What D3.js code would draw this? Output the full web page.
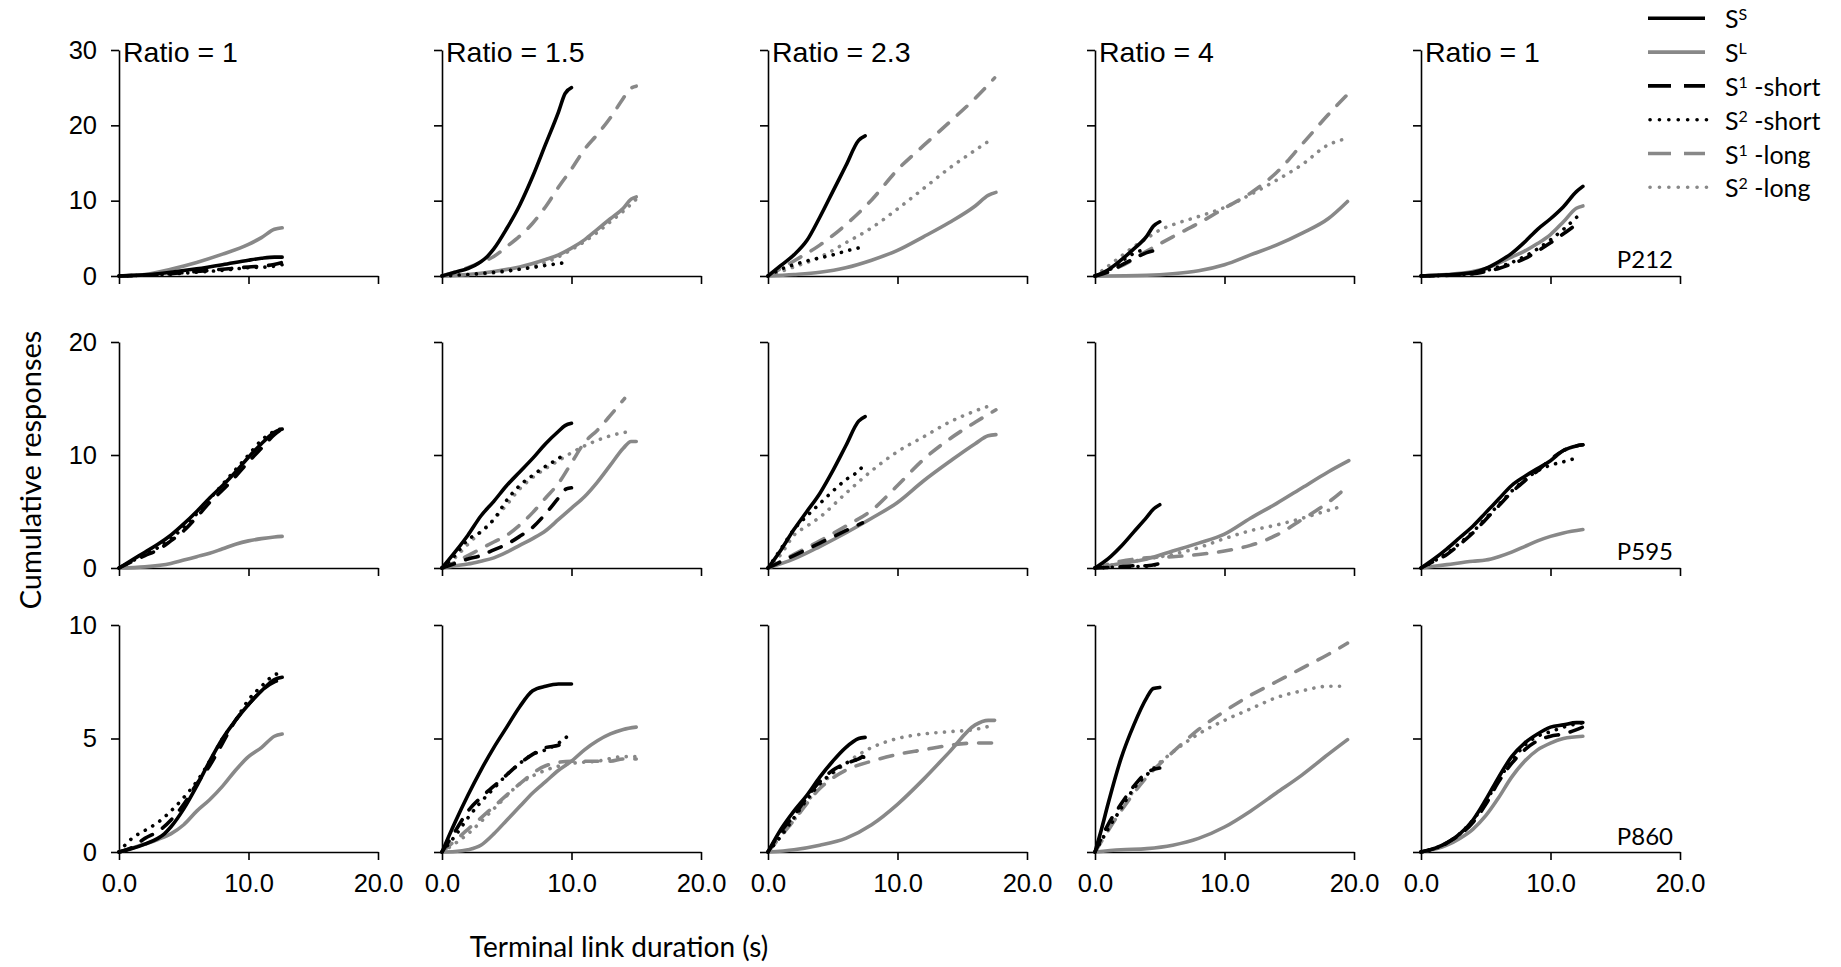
<!DOCTYPE html>
<html>
<head>
<meta charset="utf-8">
<script src="https://cdn.jsdelivr.net/npm/d3@7"></script>
<style>
  html, body { margin: 0; padding: 0; background: #fff; }
  svg { display: block; }
</style>
</head>
<body>
<div id="chart"></div>
<script>
// ---- data ----
const ratioLabels = ["Ratio = 1", "Ratio = 1.5", "Ratio = 2.3", "Ratio = 4", "Ratio = 1"];
const subjects = ["P212", "P595", "P860"];
const xTicks = [0, 10, 20];
const yMaxByRow = [30, 20, 10];
const yTicksByRow = [[0, 10, 20, 30], [0, 10, 20], [0, 5, 10]];

// each panel: series -> [x (s), cumulative responses]
const p212 = [
  { // ratio 1
    SL:  [[0,0],[2,0.2],[4,0.9],[6,1.8],[8,2.9],[10,4.2],[11,5.1],[12,6.2],[12.6,6.4]],
    SS:  [[0,0],[2,0.15],[4,0.5],[6,0.95],[8,1.5],[10,2.1],[11,2.35],[12,2.5],[12.6,2.5]],
    S1s: [[0,0],[4,0.3],[6,0.6],[8,0.9],[10,1.2],[11.5,1.4],[12.6,1.8]],
    S2s: [[0,0],[4,0.25],[6,0.5],[8,0.75],[10,1.1],[11.5,1.2],[12.6,1.5]]
  },
  { // ratio 1.5
    SL:  [[0,0],[2,0.2],[4,0.6],[6,1.2],[8,2.2],[9,2.8],[10,3.7],[11,4.8],[12,6.2],[13,7.6],[14,9.0],[14.6,10.2],[15,10.5]],
    S1l: [[0,0],[2,1.1],[3,1.8],[4,2.6],[5,3.9],[6,5.3],[7,7.0],[8,9.2],[9,11.8],[10,14.2],[11,16.8],[12,18.8],[13,21.0],[14,23.6],[14.5,24.8],[15,25.2]],
    S2l: [[0,0],[2,0.15],[4,0.4],[6,0.9],[8,1.8],[10,3.5],[12,5.8],[13,7.2],[14,8.6],[15,10.2]],
    SS:  [[0,0],[1,0.5],[2,1.0],[3,1.9],[3.5,2.6],[4,3.6],[5,6.3],[6,9.4],[7,13.2],[8,17.5],[9,21.8],[9.5,24.2],[10,25]],
    S2s: [[0,0],[2,0.2],[4,0.5],[6,0.9],[8,1.4],[9.6,1.8]]
  },
  { // ratio 2.3
    SL:  [[0,0],[2,0.2],[4,0.5],[6,1.1],[8,2.1],[10,3.4],[12,5.2],[14,7.1],[16,9.3],[17,10.7],[17.6,11.1]],
    S1l: [[0,0],[1,1.0],[2,2.0],[4,4.1],[6,6.8],[8,10.1],[10,14.1],[12,17.3],[14,20.4],[16,23.6],[17.5,26.3]],
    S2l: [[0,0],[2,1.2],[4,2.5],[6,4.4],[8,6.4],[10,8.9],[12,11.6],[14,14.3],[16,16.7],[17.3,18.2]],
    SS:  [[0,0],[1,1.4],[2,2.8],[3,4.7],[4,7.8],[5,11.2],[6,14.6],[7,18.0],[7.5,18.6]],
    S2s: [[0,0],[1,0.9],[2,1.5],[3,2.0],[4,2.4],[5,2.8],[6,3.3],[7.2,3.8]]
  },
  { // ratio 4
    SL:  [[0,0],[4,0.1],[6,0.3],[8,0.7],[10,1.5],[12,2.8],[14,4.1],[16,5.7],[18,7.6],[19.5,9.9]],
    S1l: [[0,0],[2,1.3],[4,3.3],[6,5.2],[8,7.0],[10,9.0],[12,11.0],[14,13.7],[16,17.5],[18,21.4],[19.5,24.1]],
    S2l: [[0,0],[1,1.3],[2,2.6],[3,3.9],[4,5.0],[5,6.1],[6,6.8],[8,7.9],[10,9.1],[12,10.8],[14,12.7],[16,14.8],[18,17.4],[19.1,18.1]],
    SS:  [[0,0],[1,0.8],[2,2.1],[3,3.6],[4,5.3],[4.5,6.6],[5,7.2]],
    S1s: [[0,0],[1,0.5],[2,1.4],[3,2.3],[4,3.1],[5,3.5]],
    S2s: [[0,0],[1,0.7],[2,1.9],[3,3.0],[3.6,3.4]]
  },
  { // ratio 1
    SL:  [[0,0],[2,0.2],[4,0.6],[5,1.0],[6,1.7],[7,2.5],[8,3.3],[9,4.3],[10,5.5],[11,7.2],[12,9.0],[12.5,9.3]],
    SS:  [[0,0],[2,0.15],[4,0.45],[5,1.0],[6,1.9],[7,3.0],[8,4.5],[9,6.2],[10,7.6],[11,9.2],[12,11.2],[12.5,11.9]],
    S1s: [[0,0],[4,0.3],[5,0.6],[6,1.0],[7,1.6],[8,2.3],[9,3.3],[10,4.4],[11,5.6],[11.8,6.6]],
    S2s: [[0,0],[4,0.3],[5,0.7],[6,1.2],[7,1.8],[8,2.6],[9,3.6],[10,4.8],[11,6.2],[12.2,8.1]]
  }
];

const p595 = [
  {
    SL:  [[0,0],[2,0.1],[4,0.4],[5,0.7],[6,1.0],[7,1.3],[8,1.7],[9,2.1],[10,2.4],[11,2.6],[12,2.75],[12.6,2.8]],
    SS:  [[0,0],[1,0.7],[2,1.4],[3,2.1],[4,2.9],[5,3.9],[6,5.0],[7,6.2],[8,7.3],[9,8.5],[10,9.8],[11,11.0],[12,12.0],[12.6,12.3]],
    S1s: [[0,0],[2,1.1],[3,1.6],[4,2.4],[5,3.3],[6,4.5],[7,5.8],[8,6.9],[9,8.1],[10,9.4],[11,10.6],[12,11.8],[12.6,12.3]],
    S2s: [[0,0],[1,0.6],[2,1.2],[3,1.8],[4,2.6],[5,3.6],[6,4.8],[7,6.1],[8,7.4],[9,8.7],[10,10.0],[11,11.3],[12,12.1],[12.5,12.3]]
  },
  {
    SL:  [[0,0],[1,0.2],[2,0.35],[3,0.6],[4,0.9],[5,1.4],[6,2.0],[7,2.6],[8,3.3],[9,4.3],[10,5.3],[11,6.3],[12,7.6],[13,9.1],[14,10.6],[14.6,11.2],[15,11.2]],
    S1l: [[0,0],[1,0.5],[2,1.1],[3,1.7],[4,2.3],[5,2.9],[6,3.8],[7,4.9],[8,6.2],[9,7.5],[10,9.3],[11,11.1],[12,12.2],[13,13.5],[14.1,15.0]],
    S2l: [[0,0],[1,0.9],[2,2.1],[3,3.2],[4,4.3],[5,5.6],[6,7.0],[7,8.0],[8,8.8],[9,9.5],[10,10.2],[11,10.8],[12,11.3],[13,11.7],[14.6,12.1]],
    SS:  [[0,0],[1,1.4],[2,2.9],[3,4.6],[4,5.9],[5,7.3],[6,8.5],[7,9.7],[8,11.0],[9,12.1],[9.5,12.6],[10,12.8]],
    S1s: [[0,0],[1,0.4],[2,0.8],[3,1.1],[4,1.6],[5,2.1],[6,2.8],[7,3.6],[8,4.8],[9,6.2],[9.6,7.0],[10,7.1]],
    S2s: [[0,0],[1,1.1],[2,2.5],[3,3.2],[4,4.3],[5,6.0],[6,7.3],[7,8.2],[8,9.0],[9,9.7],[9.5,10.1]]
  },
  {
    SL:  [[0,0],[2,0.8],[4,1.9],[6,3.1],[8,4.4],[10,5.8],[12,7.7],[14,9.4],[16,11.0],[17,11.7],[17.6,11.8]],
    S1l: [[0,0],[2,1.2],[4,2.4],[6,3.7],[8,5.1],[10,7.3],[12,9.6],[14,11.4],[16,12.9],[17.6,14.0]],
    S2l: [[0,0],[1,1.2],[2,2.9],[3,3.7],[4,4.5],[6,6.6],[8,8.6],[10,10.3],[12,11.6],[14,12.9],[16,13.9],[17.5,14.5]],
    SS:  [[0,0],[1,1.6],[2,3.4],[3,5.0],[4,6.6],[5,8.6],[6,10.8],[7,13.0],[7.5,13.4]],
    S1s: [[0,0],[2,1.1],[4,2.2],[6,3.3],[7.3,4.0]],
    S2s: [[0,0],[1,1.7],[2,3.4],[3,4.6],[4,5.7],[5,6.8],[6,7.8],[7,8.6],[7.4,9.1]]
  },
  {
    SL:  [[0,0],[2,0.4],[4,0.8],[6,1.5],[8,2.2],[10,3.0],[12,4.4],[14,5.7],[16,7.1],[18,8.5],[19.6,9.5]],
    S1l: [[0,0],[2,0.6],[4,0.9],[6,1.0],[8,1.2],[10,1.5],[12,2.0],[14,2.9],[16,4.3],[18,5.8],[19.6,7.3]],
    S2l: [[0,0],[2,0.4],[4,0.8],[6,1.2],[8,1.8],[10,2.6],[12,3.3],[14,3.8],[16,4.4],[18,5.1],[19.2,5.5]],
    SS:  [[0,0],[1,0.8],[2,1.9],[3,3.2],[4,4.5],[4.5,5.2],[5,5.6]],
    S1s: [[0,0],[1,0.05],[2,0.1],[3,0.2],[4,0.2],[5,0.4]],
    S2s: [[0,0],[2,0.1],[4,0.15],[5,0.4]]
  },
  {
    SL:  [[0,0],[2,0.3],[4,0.6],[5,0.7],[6,1.0],[7,1.4],[8,1.9],[9,2.4],[10,2.8],[11,3.1],[12.5,3.4]],
    SS:  [[0,0],[1,0.8],[2,1.7],[3,2.7],[4,3.7],[5,4.9],[6,6.1],[7,7.3],[8,8.1],[9,8.8],[10,9.5],[11,10.4],[12,10.8],[12.5,10.9]],
    S1s: [[0,0],[1,0.6],[2,1.2],[3,2.1],[4,3.1],[5,4.3],[6,5.5],[7,6.7],[8,7.7],[9,8.6],[10,9.6],[11,10.4],[12,10.8],[12.5,10.9]],
    S2s: [[0,0],[1,0.6],[2,1.3],[3,2.2],[4,3.2],[5,4.4],[6,5.6],[7,6.8],[8,7.8],[9,8.6],[10,9.1],[11,9.4],[12.2,9.8]]
  }
];

const p860 = [
  {
    SL:  [[0,0],[2,0.35],[3,0.55],[4,0.8],[5,1.2],[6,1.8],[7,2.3],[8,2.9],[9,3.6],[10,4.2],[11,4.6],[12,5.1],[12.6,5.2]],
    SS:  [[0,0],[1,0.15],[2,0.35],[3,0.6],[3.5,0.8],[4,1.1],[5,1.9],[6,2.9],[7,4.0],[8,5.0],[9,5.8],[10,6.5],[11,7.1],[12,7.6],[12.6,7.7]],
    S1s: [[0,0],[1,0.2],[2,0.6],[3,0.9],[4,1.4],[5,2.1],[6,3.0],[7,3.8],[8,4.8],[9,5.8],[10,6.5],[11,7.1],[12,7.5],[12.6,7.6]],
    S2s: [[0,0],[1,0.6],[2,0.95],[3,1.3],[4,1.8],[5,2.4],[6,3.1],[7,4.0],[8,5.0],[9,5.8],[10,6.7],[11,7.3],[12,7.8],[12.6,7.9]]
  },
  {
    SL:  [[0,0],[1,0.02],[2,0.1],[3,0.3],[4,0.8],[5,1.4],[6,2.0],[7,2.6],[8,3.1],[9,3.6],[10,4.0],[11,4.5],[12,4.9],[13,5.2],[14,5.4],[15,5.5]],
    S1l: [[0,0],[2,1.0],[4,2.0],[6,3.0],[8,3.8],[10,4.0],[12,4.0],[13,4.0],[14,4.1],[15,4.1]],
    S2l: [[0,0],[2,0.8],[4,1.9],[6,3.0],[8,3.6],[10,3.9],[12,4.0],[14,4.2],[15,4.2]],
    SS:  [[0,0],[1,1.3],[2,2.5],[3,3.6],[4,4.6],[5,5.5],[6,6.4],[7,7.1],[8,7.3],[9,7.4],[10,7.4]],
    S1s: [[0,0],[1,0.9],[2,1.8],[3,2.4],[4,2.9],[5,3.4],[6,3.9],[7,4.3],[8,4.6],[9,4.7],[9.5,4.9]],
    S2s: [[0,0],[1,0.7],[2,1.5],[3,2.2],[4,2.8],[5,3.4],[6,3.9],[7,4.3],[8,4.5],[9,4.8],[9.7,5.1]]
  },
  {
    SL:  [[0,0],[2,0.1],[4,0.3],[6,0.6],[8,1.2],[10,2.1],[12,3.2],[14,4.4],[16,5.6],[17,5.8],[17.5,5.8]],
    S1l: [[0,0],[2,1.4],[4,2.8],[6,3.6],[8,4.0],[10,4.3],[12,4.5],[14,4.7],[16,4.8],[17.5,4.8]],
    S2l: [[0,0],[2,1.4],[4,2.9],[6,3.9],[8,4.6],[10,5.0],[12,5.2],[14,5.3],[16,5.4],[17.5,5.6]],
    SS:  [[0,0],[1,1.0],[2,1.8],[3,2.5],[4,3.3],[5,4.0],[6,4.6],[7,5.0],[7.5,5.05]],
    S1s: [[0,0],[1,0.9],[2,1.6],[3,2.4],[4,3.1],[5,3.6],[6,3.9],[7,4.1],[7.3,4.2]],
    S2s: [[0,0],[1,0.7],[2,1.5],[3,2.3],[4,3.0],[5,3.5],[6,3.9],[7,4.1],[7.5,4.2]]
  },
  {
    SL:  [[0,0],[2,0.1],[4,0.15],[6,0.3],[8,0.6],[10,1.1],[12,1.8],[14,2.6],[16,3.4],[18,4.3],[19.5,4.95]],
    S1l: [[0,0],[2,1.8],[4,3.3],[6,4.4],[8,5.4],[10,6.2],[12,6.9],[14,7.5],[16,8.1],[18,8.7],[19.5,9.2]],
    S2l: [[0,0],[2,1.9],[4,3.4],[6,4.4],[8,5.2],[10,5.8],[12,6.3],[14,6.8],[16,7.1],[18,7.3],[19.5,7.3]],
    SS:  [[0,0],[0.5,1.0],[1,2.1],[2,4.1],[3,5.6],[4,6.8],[4.5,7.2],[5,7.25]],
    S1s: [[0,0],[1,1.2],[2,2.1],[3,2.9],[4,3.5],[5,3.7]],
    S2s: [[0,0],[1,1.0],[2,1.9],[3,2.8],[4,3.4],[5,3.9]]
  },
  {
    SL:  [[0,0],[2,0.3],[3,0.6],[4,1.0],[5,1.6],[6,2.4],[7,3.3],[8,4.0],[9,4.5],[10,4.8],[11,5.0],[12.5,5.1]],
    SS:  [[0,0],[1,0.15],[2,0.4],[3,0.8],[4,1.4],[5,2.3],[6,3.3],[7,4.2],[8,4.8],[9,5.2],[10,5.5],[11,5.6],[12,5.7],[12.5,5.7]],
    S1s: [[0,0],[2,0.4],[4,1.3],[5,2.1],[6,3.1],[7,3.9],[8,4.5],[9,4.9],[10,5.1],[11,5.2],[12.5,5.5]],
    S2s: [[0,0],[2,0.4],[4,1.4],[5,2.2],[6,3.2],[7,4.0],[8,4.7],[9,5.1],[10,5.3],[11,5.5],[12.5,5.7]]
  }
];

const rowsData = [p212, p595, p860];

// legend entries (main letter, superscript, rest)
const legendKeys = ["SS", "SL", "S1s", "S2s", "S1l", "S2l"];
const legendSup = ["S", "L", "1", "2", "1", "2"];
const legendRest = ["", "", " -short", " -short", " -long", " -long"];

// ---- styles / layout ----
const GRAY = "#888888";
const DASH = "13,12";
const DOT = "0.1,8.5";
const styles = {
  SS:  { color: "#000", dash: null },
  SL:  { color: GRAY,   dash: null },
  S1s: { color: "#000", dash: DASH },
  S2s: { color: "#000", dash: DOT },
  S1l: { color: GRAY,   dash: DASH },
  S2l: { color: GRAY,   dash: DOT }
};
const drawOrder = ["SL", "S1l", "S2l", "SS", "S1s", "S2s"];

const W = 1841, H = 967;
const colX = [119, 442, 768, 1095, 1421];
const panelW = 259;
const rowTop = [50, 342, 625];
const rowZero = [276, 568, 852];

const svg = d3.select("#chart").append("svg")
  .attr("width", W)
  .attr("height", H);

const line = d3.line().curve(d3.curveMonotoneX);

rowsData.forEach((panels, r) => {
  const y = d3.scaleLinear().domain([0, yMaxByRow[r]]).range([rowZero[r], rowTop[r]]);
  panels.forEach((panel, c) => {
    const x = d3.scaleLinear().domain([0, 20]).range([colX[c], colX[c] + panelW]);
    const g = svg.append("g");

    // axes
    const ya = g.append("g")
      .attr("transform", `translate(${colX[c]},0)`)
      .call(d3.axisLeft(y).tickValues(yTicksByRow[r]).tickSize(8).tickSizeOuter(0).tickPadding(14)
        .tickFormat(c === 0 ? d3.format("d") : () => ""));
    const xa = g.append("g")
      .attr("transform", `translate(0,${rowZero[r]})`)
      .call(d3.axisBottom(x).tickValues(xTicks).tickSize(8).tickSizeOuter(0).tickPadding(14)
        .tickFormat(r === 2 ? d3.format(".1f") : () => ""));
    [ya, xa].forEach(a => {
      a.selectAll("path, line").attr("stroke", "#000").attr("stroke-width", 1.6);
      a.selectAll("text")
        .attr("fill", "#000")
        .style("font-family", "'Liberation Sans', Arial, sans-serif")
        .style("font-size", "25.5px");
    });

    // series
    line.x(d => x(d[0])).y(d => y(d[1]));
    drawOrder.filter(k => panel[k]).forEach(k => {
      g.append("path")
        .attr("d", line(panel[k]))
        .attr("fill", "none")
        .attr("stroke", styles[k].color)
        .attr("stroke-width", 3.6)
        .attr("stroke-linecap", "round")
        .attr("stroke-linejoin", "round")
        .attr("stroke-dasharray", styles[k].dash);
    });

    if (r === 0) {
      g.append("text")
        .attr("x", colX[c] + 4)
        .attr("y", 62)
        .style("font-family", "'Liberation Sans', Arial, sans-serif")
        .style("font-size", "28.5px")
        .text(ratioLabels[c]);
    }
  });

  // subject label
  svg.append("text")
    .attr("x", 1673)
    .attr("y", [268, 560, 845][r])
    .attr("text-anchor", "end")
    .style("font-family", "Lato, sans-serif")
    .style("font-size", "24px")
    .text(subjects[r]);
});

// axis titles
svg.append("text")
  .attr("transform", "translate(41,470) rotate(-90)")
  .attr("text-anchor", "middle")
  .style("font-family", "Lato, sans-serif")
  .style("font-size", "29px")
  .text("Cumulative responses");

svg.append("text")
  .attr("x", 619)
  .attr("y", 957)
  .attr("text-anchor", "middle")
  .style("font-family", "Lato, sans-serif")
  .style("font-size", "28px")
  .text("Terminal link duration (s)");

// legend
const legend = svg.append("g").attr("class", "legend");
legendKeys.forEach((k, i) => {
  const ly = 18.3 + i * 33.8;
  legend.append("line")
    .attr("x1", 1648).attr("x2", 1705)
    .attr("y1", ly).attr("y2", ly)
    .attr("stroke", styles[k].color)
    .attr("stroke-width", 3.6)
    .attr("stroke-linecap", styles[k].dash === DOT ? "round" : "butt")
    .attr("stroke-dasharray", styles[k].dash === DASH ? "23,13" : (styles[k].dash === DOT ? "0.1,9.3" : null))
    .attr("transform", styles[k].dash === DOT ? "translate(2,0)" : null);
  const t = legend.append("text")
    .attr("x", 1725)
    .attr("y", ly + 10)
    .style("font-family", "Lato, sans-serif")
    .style("font-size", "25px");
  t.append("tspan").text("S");
  t.append("tspan").attr("dy", -8).style("font-size", "16px").text(legendSup[i]);
  if (legendRest[i]) t.append("tspan").attr("dy", 8).text(legendRest[i]);
});
</script>
</body>
</html>
